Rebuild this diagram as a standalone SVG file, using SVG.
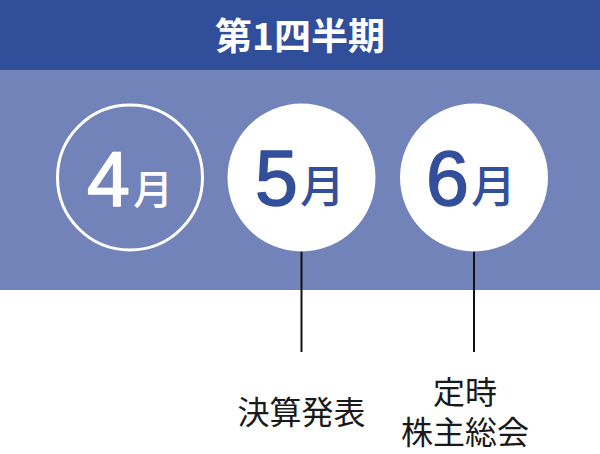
<svg xmlns="http://www.w3.org/2000/svg" width="600" height="454" viewBox="0 0 600 454">
<style>
.hd{font-family:"Noto Sans CJK JP","Noto Sans",sans-serif;font-weight:700;font-size:37px;fill:#fff}
.num{font-family:"Liberation Sans",Arial,sans-serif;font-size:77px;stroke-width:1.6px;stroke-linejoin:round}
.kj{font-family:"Noto Sans CJK JP","Noto Sans",sans-serif;font-weight:500;font-size:45px;stroke-width:0}
.lb{font-family:"Noto Sans CJK JP","Noto Sans",sans-serif;font-size:32px;fill:#1a1a1a}
.ln{stroke:#111;stroke-width:2;fill:none}
.w{fill:#fff;stroke:#fff}
.b{fill:#334e9b;stroke:#334e9b}
</style>
<rect x="0" y="0" width="600" height="70" fill="#314e9b"/>
<rect x="0" y="70" width="600" height="220" fill="#7283b9"/>
<text class="hd" x="300" y="50" text-anchor="middle">第1四半期</text>
<g id="connectors">
<line class="ln" x1="301.5" y1="250" x2="301.5" y2="352"/>
<line class="ln" x1="474" y1="250" x2="474" y2="352"/>
</g>
<g id="apr">
<circle cx="130" cy="177.5" r="72.5" fill="none" stroke="#fff" stroke-width="3"/>
<text class="num w" x="130" y="206" text-anchor="middle">4<tspan class="kj" dx="3" dy="-2" style="font-size:40px">月</tspan></text>
</g>
<g id="may">
<circle cx="301.5" cy="177.5" r="74" fill="#fff"/>
<text class="num b" x="300" y="205" text-anchor="middle">5<tspan class="kj" dx="2" dy="-2">月</tspan></text>
</g>
<g id="jun">
<circle cx="474" cy="177.5" r="74" fill="#fff"/>
<text class="num b" x="471" y="205" text-anchor="middle">6<tspan class="kj" dx="2" dy="-2">月</tspan></text>
</g>
<g id="label-may">
<text class="lb" x="301.5" y="424" text-anchor="middle">決算発表</text>
</g>
<g id="label-jun">
<text class="lb" text-anchor="middle"><tspan x="465" y="404">定時</tspan><tspan x="465" y="444">株主総会</tspan></text>
</g>
</svg>
